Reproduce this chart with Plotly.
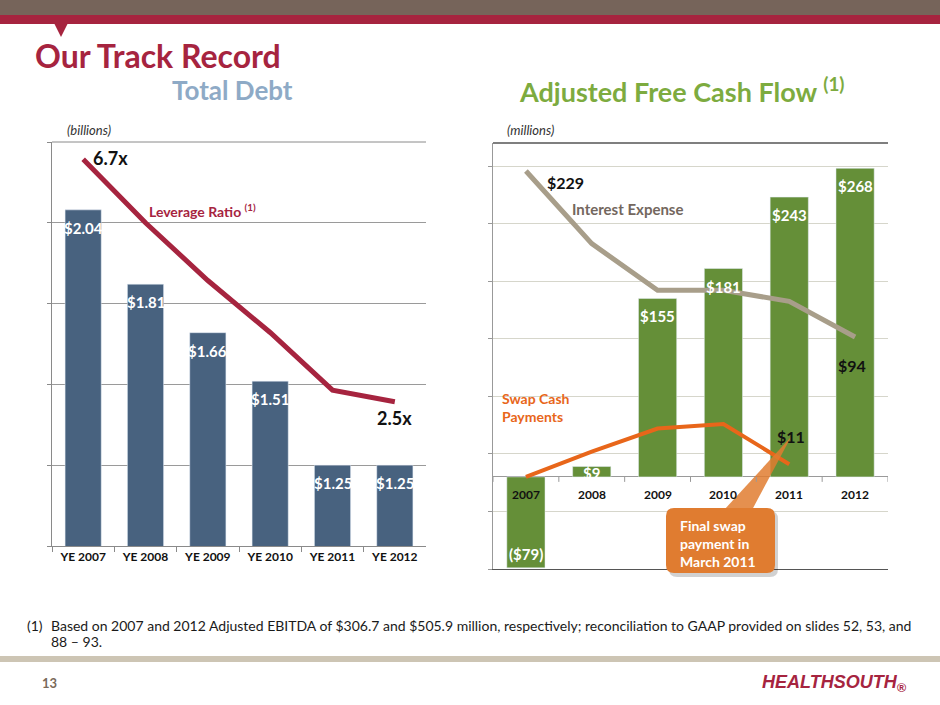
import plotly.graph_objects as go

W, H = 940, 705

# Total Debt (billions) with leverage ratio
debt_years = ["YE 2007", "YE 2008", "YE 2009", "YE 2010", "YE 2011", "YE 2012"]
total_debt = [2.04, 1.81, 1.66, 1.51, 1.25, 1.25]
leverage = [6.7, 5.6, 4.6, 3.7, 2.7, 2.5]

# Adjusted free cash flow (millions), interest expense, swap cash payments
fcf_years = ["2007", "2008", "2009", "2010", "2011", "2012"]
free_cash_flow = [-79, 9, 155, 181, 243, 268]
interest_expense = [229, 170, 132, 132, 123, 94]
swap_payments = [0, 22, 42, 46, 11]  # final payment March 2011

CRIMSON = "#a6243f"
FONT = "Lato"


def px(x):
    return x / W


def py(y):
    return 1 - y / H


def path(points):
    return "M " + " L ".join(f"{px(x):.5f},{py(y):.5f}" for x, y in points) + " Z"


def rounded_rect(x0, y0, x1, y1, r):
    p = lambda x, y: f"{px(x):.5f},{py(y):.5f}"
    return (f"M {p(x0 + r, y0)} L {p(x1 - r, y0)} Q {p(x1, y0)} {p(x1, y0 + r)} "
            f"L {p(x1, y1 - r)} Q {p(x1, y1)} {p(x1 - r, y1)} L {p(x0 + r, y1)} "
            f"Q {p(x0, y1)} {p(x0, y1 - r)} L {p(x0, y0 + r)} Q {p(x0, y0)} {p(x0 + r, y0)} Z")


fig = go.Figure()

fig.add_trace(go.Bar(x=debt_years, y=total_debt, marker_color="#48627f", width=0.58,
                     xaxis="x", yaxis="y", hoverinfo="skip"))
fig.add_trace(go.Scatter(x=debt_years, y=leverage, mode="lines",
                         line=dict(color=CRIMSON, width=5), xaxis="x", yaxis="y2", hoverinfo="skip"))

fig.add_trace(go.Bar(x=fcf_years, y=free_cash_flow, marker_color="#658f38", width=0.58,
                     xaxis="x2", yaxis="y3", hoverinfo="skip"))
fig.add_trace(go.Scatter(x=fcf_years, y=interest_expense, mode="lines",
                         line=dict(color="#a89e8a", width=5), xaxis="x2", yaxis="y4", hoverinfo="skip"))
fig.add_trace(go.Scatter(x=fcf_years[:len(swap_payments)], y=swap_payments, mode="lines",
                         line=dict(color="#e8661a", width=4), xaxis="x2", yaxis="y3", hoverinfo="skip"))

ann = []


def note(text, x, y, size=13, color="#1a1a1a", weight="normal", xanchor="left", style="normal",
         family=FONT, align="left"):
    ann.append(dict(text=text, x=px(x), y=py(y), xref="paper", yref="paper", showarrow=False,
                    xanchor=xanchor, yanchor="middle", align=align,
                    font=dict(size=size, color=color, weight=weight, style=style, family=family)))


# bar labels (left)
for i, v in enumerate(total_debt):
    ann.append(dict(text=f"${v:.2f}", x=i, y=v, xref="x", yref="y", showarrow=False,
                    yanchor="top", yshift=-7, font=dict(size=15, color="white", weight="bold", family=FONT)))

# bar labels (right)
for i, v in enumerate(free_cash_flow):
    if v < 0:
        a = dict(text=f"(${-v})", y=v, yanchor="bottom", yshift=3)
    elif v < 20:
        a = dict(text=f"${v}", y=v, yanchor="middle", yshift=-6)
    else:
        a = dict(text=f"${v}", y=v, yanchor="top", yshift=-7)
    a.update(x=i, xref="x2", yref="y3", showarrow=False,
             font=dict(size=15, color="white", weight="bold", family=FONT))
    ann.append(a)

# category labels on the zero line (right)
for i, yr in enumerate(fcf_years):
    ann.append(dict(text=yr, x=i, y=0, xref="x2", yref="y3", showarrow=False, yanchor="top",
                    yshift=-8, font=dict(size=12, color="#111", weight="bold", family=FONT)))

# line end labels
last_swap = len(swap_payments) - 1
ann += [
    dict(text="6.7x", x=0, y=leverage[0], xref="x", yref="y2", xshift=27, yshift=1),
    dict(text="2.5x", x=len(leverage) - 1, y=leverage[-1], xref="x", yref="y2", yshift=-16),
]
for a in ann[-2:]:
    a.update(showarrow=False, font=dict(size=18, color="#111", weight="bold", family=FONT))
ann += [
    dict(text=f"${interest_expense[0]}", x=0, y=interest_expense[0], xref="x2", yref="y4",
         xshift=40, yshift=-11),
    dict(text=f"${interest_expense[-1]}", x=len(interest_expense) - 1, y=interest_expense[-1],
         xref="x2", yref="y4", xshift=-3, yshift=-28),
    dict(text=f"${swap_payments[-1]}", x=last_swap, y=swap_payments[-1],
         xref="x2", yref="y3", xshift=2, yshift=28),
]
for a in ann[-3:]:
    a.update(showarrow=False, font=dict(size=16, color="#111", weight="bold", family=FONT))

# static text
note("Our Track Record", 33, 55, size=32, color=CRIMSON, weight="bold")
note("Total Debt", 232, 90, size=26, color="#8eaac6", weight="bold", xanchor="center")
note("Adjusted Free Cash Flow <sup>(1)</sup>", 517, 90, size=27, color="#7dab3f", weight="bold")
note("(billions)", 65, 130, size=13, color="#333", style="italic")
note("(millions)", 505, 130, size=13, color="#333", style="italic")
note("Leverage Ratio <sup>(1)</sup>", 147, 210, size=14, color=CRIMSON, weight="bold")
note("Interest Expense", 570, 209, size=15, color="#73675e", weight="bold")
note("Swap Cash<br>Payments", 500, 408, size=14, color="#e8661a", weight="bold")
note("(1)", 25, 625, size=14)
note("Based on 2007 and 2012 Adjusted EBITDA of $306.7 and $505.9 million, respectively; "
     "reconciliation to GAAP provided on slides 52, 53, and", 49, 625, size=14)
note("88 – 93.", 49, 641, size=14)
note("13", 40, 683, size=13, color="#7a6a5a", weight="bold")
note("HEALTHSOUTH<sub>®</sub>", 909, 683, size=18, color=CRIMSON, weight="bold", style="italic",
     xanchor="right", family="Liberation Sans Narrow, Liberation Sans")
note("Final swap<br>payment in<br>March 2011", 678, 543, size=14, color="white", weight="bold")

shapes = [
    dict(type="rect", xref="paper", yref="paper", x0=0, x1=1, y0=py(15), y1=1,
         fillcolor="#76645a", line_width=0, layer="below"),
    dict(type="rect", xref="paper", yref="paper", x0=0, x1=1, y0=py(24), y1=py(15),
         fillcolor=CRIMSON, line_width=0, layer="below"),
    dict(type="path", xref="paper", yref="paper", path=path([(54, 23), (68, 23), (61, 37)]),
         fillcolor=CRIMSON, line_width=0),
    dict(type="rect", xref="paper", yref="paper", x0=0, x1=1, y0=py(662), y1=py(656),
         fillcolor="#cdc5b4", line_width=0, layer="below"),
    # top edges of both plot areas
    dict(type="line", xref="paper", yref="paper", x0=px(52), x1=px(426), y0=py(142), y1=py(142),
         line=dict(color="#8a8a8a", width=1)),
    dict(type="line", xref="paper", yref="paper", x0=px(493), x1=px(888), y0=py(143), y1=py(143),
         line=dict(color="#555", width=1.5)),
    # callout
    dict(type="path", xref="paper", yref="paper", path=rounded_rect(669, 511, 778, 577, 8),
         fillcolor="rgba(0,0,0,0.18)", line_width=0),
    dict(type="path", xref="paper", yref="paper", path=path([(724, 510), (791, 437), (752, 510)]),
         fillcolor="rgba(224,124,48,0.85)", line_width=0),
    dict(type="path", xref="paper", yref="paper", path=rounded_rect(666, 508, 775, 573, 8),
         fillcolor="#e07c30", line_width=0),
]
# boundary ticks on the right chart zero line
for i in range(len(fcf_years) + 1):
    shapes.append(dict(type="line", xref="x2", yref="y3", x0=i - 0.5, x1=i - 0.5, y0=0, y1=-5,
                       ysizemode="pixel", yanchor=0, line=dict(color="#999", width=1)))

hidden = dict(visible=False, showgrid=False, zeroline=False, showline=False, ticks="",
              showticklabels=False)

fig.update_layout(
    width=W, height=H, margin=dict(l=0, r=0, t=0, b=0),
    paper_bgcolor="white", plot_bgcolor="white", showlegend=False,
    font=dict(family=FONT),
    xaxis=dict(domain=[px(52), px(426)], anchor="y", type="category", range=[-0.5, 5.5],
               showline=True, linecolor="#8a8a8a", ticks="outside", tickson="boundaries", ticklen=5,
               tickcolor="#8a8a8a", showgrid=False,
               tickfont=dict(size=12, color="#111", weight="bold", family=FONT)),
    yaxis=dict(domain=[py(546), py(142)], range=[1.0, 2.25], tick0=1.0, dtick=0.25,
               showline=True, linecolor="#8a8a8a", ticks="outside", ticklen=4, tickcolor="#8a8a8a",
               showticklabels=False, gridcolor="#9a9a9a", zeroline=False),
    yaxis2=dict(overlaying="y", anchor="x", range=[0, 7], **hidden),
    xaxis2=dict(domain=[px(493), px(888)], anchor="y3", type="category", range=[-0.5, 5.5],
                showline=True, linecolor="#555", ticks="", showticklabels=False, showgrid=False),
    yaxis3=dict(domain=[py(569), py(143)], anchor="x2", range=[-80, 290], tick0=-80, dtick=50,
                showline=True, linecolor="#999", ticks="outside", ticklen=4, tickcolor="#999",
                showticklabels=False, gridcolor="#d6d6cb", zeroline=True,
                zerolinecolor="#9a9a9a", zerolinewidth=1),
    yaxis4=dict(overlaying="y3", anchor="x2", range=[-94.6, 251.8], **hidden),
    annotations=ann, shapes=shapes,
)

fig.write_html("out.html", config={"displayModeBar": False},
               post_script="document.body.style.margin='0';")
